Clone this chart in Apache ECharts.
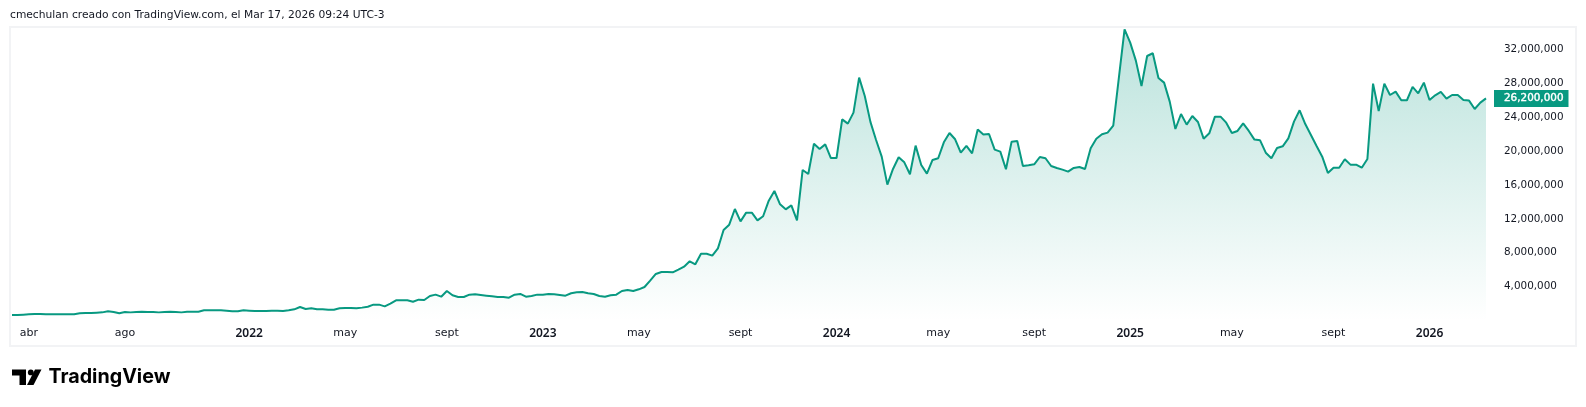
<!DOCTYPE html>
<html>
<head>
<meta charset="utf-8">
<style>html,body{margin:0;padding:0;background:#fff}#chart{width:1586px;height:407px}</style>
<script src="https://cdn.jsdelivr.net/npm/echarts@6/dist/echarts.min.js"></script>
</head>
<body>
<div id="chart"></div>
<script>
// weekly closes in millions, 2021-03-15 to 2026-03-16
var values2021 = [0.66,0.66,0.70,0.74,0.78,0.78,0.74,0.74,0.74,0.74,0.74,0.74,0.86,0.90,0.90,0.94,0.97,1.09,1.01,0.86,1.01,0.97,1.01,1.05,1.01,1.01,0.97,1.01,1.05,1.01,0.97,1.05,1.05,1.05,1.21,1.21,1.21,1.21,1.17,1.09,1.09,1.21];
var values2022 = [1.17,1.13,1.13,1.13,1.17,1.17,1.13,1.21,1.33,1.60,1.37,1.45,1.33,1.33,1.29,1.29,1.45,1.49,1.49,1.45,1.53,1.64,1.88,1.88,1.68,2.00,2.39,2.39,2.39,2.23,2.47,2.43,2.90,3.06,2.82,3.49,2.98,2.78,2.78,3.06,3.10,3.02,2.94,2.86,2.78,2.78,2.70,3.06,3.14,2.82,2.90,3.06];
var values2023 = [3.06,3.14,3.10,3.02,2.94,3.22,3.33,3.37,3.22,3.14,2.90,2.82,2.98,3.06,3.49,3.61,3.49,3.69,3.96,4.71,5.50,5.73,5.73,5.69,6.01,6.36,6.99,6.64,7.89,7.89,7.66,8.52,10.68,11.31,13.16,11.70,12.73,12.73,11.82,12.30,14.14,15.28,13.71,13.12,13.59,11.82,17.76,17.28,20.86,20.24,20.78,19.17];
var values2024 = [19.17,23.73,23.22,24.52,28.65,26.49,23.43,21.30,19.34,16.03,17.88,19.26,18.66,17.25,20.63,18.35,17.33,18.94,19.14,21.02,22.12,21.38,19.80,20.59,19.73,22.52,21.93,22.00,20.16,19.92,17.84,21.10,21.18,18.23,18.31,18.43,19.29,19.14,18.23,18.00,17.80,17.56,18.00,18.11,17.88,20.31,21.45,21.97,22.16,22.99,28.69,34.35];
var values2025 = [32.78,30.65,27.66,31.20,31.52,28.61,28.06,25.82,22.59,24.36,23.11,24.13,23.42,21.45,22.08,24.05,24.05,23.34,22.12,22.36,23.26,22.36,21.34,21.26,19.80,19.14,20.35,20.55,21.49,23.46,24.80,23.18,21.89,20.59,19.33,17.41,18.03,18.03,19.02,18.39,18.39,18.03,19.06,27.94,24.72,27.94,26.60,27.00,25.98,25.98,27.55,26.80,28.06];
var values2026 = [26.01,26.56,26.96,26.17,26.60,26.60,26.01,25.94,24.95,25.70,26.20];

var tickWeeks = [3,20,42,59,77,94,111,129,146,164,181,198,216,234,251];
var tickLabels = ['abr','ago','2022','may','sept','2023','may','sept','2024','may','sept','2025','may','sept','2026'];
var priceTicks = [4,8,12,16,20,24,28,32];

var green = '#089981';
var ink = '#131722';
var font = '"DejaVu Sans", sans-serif';

var closes = [].concat(values2021, values2022, values2023, values2024, values2025, values2026);
var weeks = closes.map(function (v, i) {
  return new Date(Date.UTC(2021, 2, 15 + i * 7)).toISOString().slice(0, 10);
});
var lastClose = closes[closes.length - 1];

function money(v) {
  return Math.round(v * 1e6).toLocaleString('en-US');
}

var myChart = echarts.init(document.getElementById('chart'));

var option = {
  animation: false,
  backgroundColor: '#fff',
  grid: { left: 12, right: 100, top: 28, height: 292.6 },
  xAxis: {
    type: 'category',
    data: weeks,
    boundaryGap: false,
    axisLine: { show: false },
    axisTick: { show: false },
    splitLine: { show: false },
    axisLabel: {
      interval: function (i) { return tickWeeks.indexOf(i) >= 0; },
      margin: 7,
      hideOverlap: false,
      formatter: function (value, i) {
        var label = tickLabels[tickWeeks.indexOf(i)];
        return /^\d+$/.test(label) ? '{year|' + label + '}' : label;
      },
      color: ink,
      fontSize: 11,
      fontFamily: font,
      rich: { year: { color: ink, fontSize: 12, fontWeight: 600, fontFamily: '"Noto Sans", sans-serif' } }
    }
  },
  yAxis: {
    type: 'value',
    position: 'right',
    min: 0,
    max: 34.5,
    interval: 4,
    axisLine: { show: false },
    axisTick: { show: false },
    splitLine: { show: false },
    axisLabel: {
      margin: 18,
      padding: [5, 0, 0, 0],
      color: ink,
      fontSize: 10.4,
      fontFamily: font,
      showMaxLabel: false,
      showMinLabel: false,
      formatter: function (v) { return priceTicks.indexOf(v) >= 0 ? money(v) : ''; }
    }
  },
  series: [
    {
      type: 'line',
      data: closes,
      symbol: 'none',
      silent: true,
      lineStyle: { color: green, width: 2 },
      areaStyle: {
        opacity: 1,
        color: new echarts.graphic.LinearGradient(0, 0, 0, 1, [
          { offset: 0, color: 'rgba(8,153,129,0.28)' },
          { offset: 1, color: 'rgba(8,153,129,0)' }
        ])
      },
      markLine: {
        silent: true,
        symbol: 'none',
        lineStyle: { color: 'rgba(0,0,0,0)', width: 0 },
        data: [{ yAxis: lastClose }],
        label: {
          show: true,
          position: 'end',
          distance: 8,
          formatter: function () { return money(lastClose); },
          color: '#fff',
          backgroundColor: green,
          fontSize: 10.4,
          fontFamily: font,
          textBorderColor: '#fff',
          textBorderWidth: 0.4,
          padding: [4, 5, 3, 10]
        }
      }
    }
  ],
  graphic: [
    { type: 'rect', silent: true, shape: { x: 10, y: 27, width: 1566, height: 319 }, style: { fill: 'none', stroke: '#f2f3f5', lineWidth: 2 } },
    { type: 'text', left: 10, top: 10, style: { text: 'cmechulan creado con TradingView.com, el Mar 17, 2026 09:24 UTC-3', fill: ink, font: '10.7px ' + font } },
    { type: 'polygon', shape: { points: [[12, 369.5], [26, 369.5], [26, 385], [19.5, 385], [19.5, 375.5], [12, 375.5]] }, style: { fill: '#000' } },
    { type: 'circle', shape: { cx: 30.8, cy: 372.4, r: 2.9 }, style: { fill: '#000' } },
    { type: 'polygon', shape: { points: [[35, 369.5], [41.5, 369.5], [33.5, 385], [27, 385]] }, style: { fill: '#000' } },
    { type: 'text', left: 48.5, top: 367.5, style: { text: 'TradingView', fill: '#000', font: '700 19.7px Inter, sans-serif' } }
  ]
};

option && myChart.setOption(option);
</script>
</body>
</html>
